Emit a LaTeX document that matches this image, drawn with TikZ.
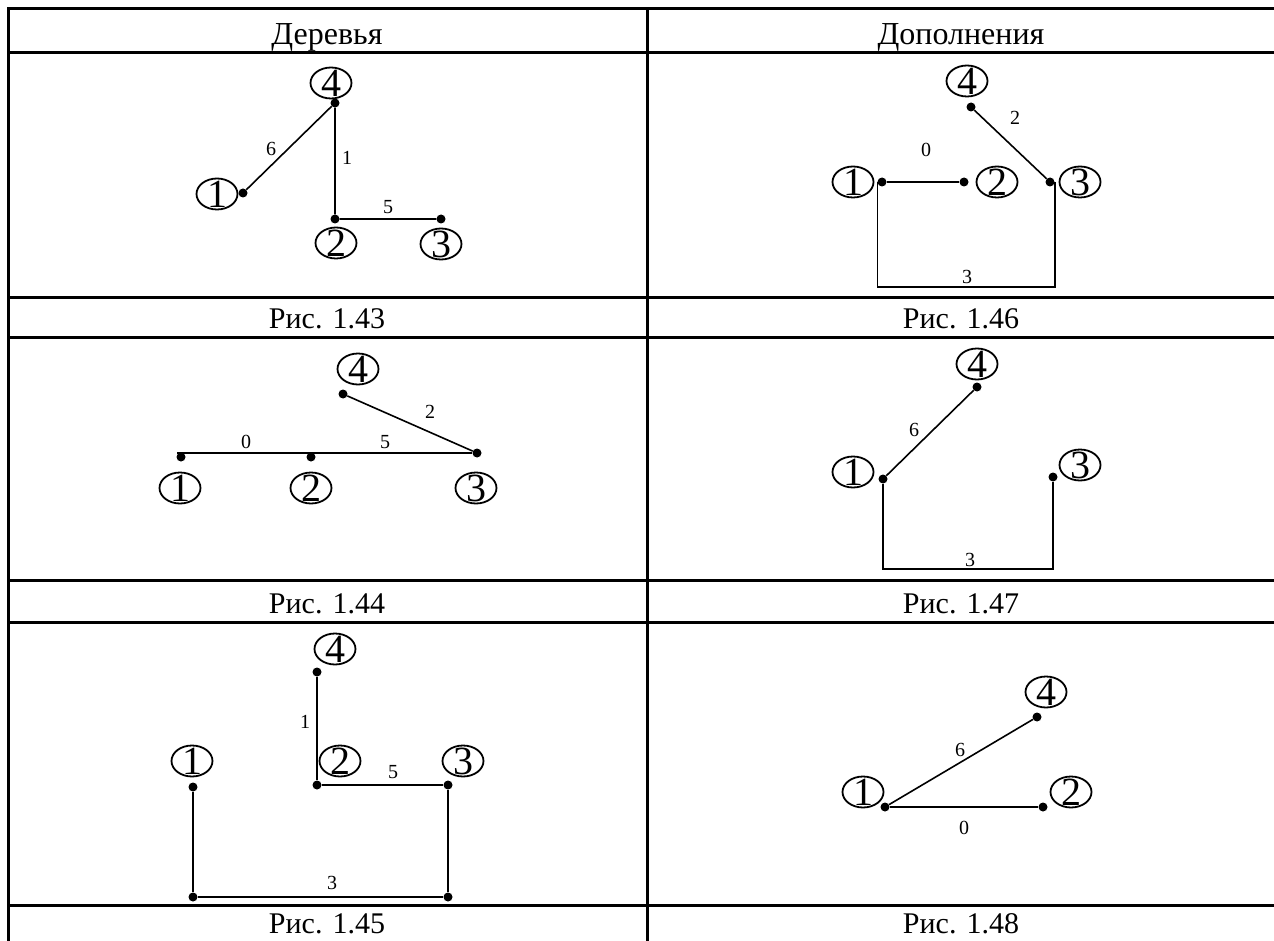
\documentclass[tikz,border=0pt]{standalone}
\usepackage{fontspec}
\setmainfont{Liberation Serif}
\usetikzlibrary{shapes.geometric}
\newcommand{\cifra}[1]{\smash{\makebox[0pt]{\raisebox{-.5\height}{#1}}}}
\begin{document}
\begin{tikzpicture}[x=1pt, y=-1pt,
    setka/.style={line width=3pt},
    rebro/.style={line width=1.6pt},
    tochka/.style={circle, fill, inner sep=0pt, minimum size=9pt},
    vershina/.style={draw, ellipse, line width=1.8pt, inner sep=0pt, minimum width=41pt, minimum height=31pt, font=\fontsize{40}{40}\selectfont},
    ves/.style={inner sep=1pt, font=\fontsize{20}{20}\selectfont},
    podpis/.style={anchor=base, font=\fontsize{30}{30}\selectfont}]
\useasboundingbox (0,0) rectangle (1274,941);
% Таблица
\draw[setka] (8.5,7.5) -- (8.5,941);
\draw[setka] (647,9) -- (647,941);
\foreach \y in {9,53,298,337,580,622,905}
  \draw[setka] (7,\y) -- (1274,\y);
% Заголовки и подписи
\node[podpis, font=\fontsize{32}{32}\selectfont] (hder) at (327,45) {Деревья};
\node[podpis, font=\fontsize{32}{32}\selectfont] (hdop) at (961,45) {Дополнения};
\node[podpis] (r43) at (327,328) {Рис. 1.43};
\node[podpis] (r46) at (961,328) {Рис. 1.46};
\node[podpis] (r44) at (327,613) {Рис. 1.44};
\node[podpis] (r47) at (961,613) {Рис. 1.47};
\node[podpis] (r45) at (327,933) {Рис. 1.45};
\node[podpis] (r48) at (961,933) {Рис. 1.48};
% Рис. 1.43
\node[tochka] (a1) at (243,193) {};
\node[tochka] (a2) at (335,219) {};
\node[tochka] (a3) at (441,219) {};
\node[tochka] (a4) at (335,103) {};
\node[vershina] (va1) at (217,194) {\cifra{1}};
\node[vershina] (va2) at (336,243) {\cifra{2}};
\node[vershina] (va3) at (441,244) {\cifra{3}};
\node[vershina] (va4) at (331,83) {\cifra{4}};
\draw[rebro] (a1) -- (a4) -- (a2) -- (a3);
\node[ves] (wa6) at (271,149) {6};
\node[ves] (wa1) at (347,158) {1};
\node[ves] (wa5) at (388,207) {5};
% Рис. 1.46
\node[tochka] (b1) at (882,182) {};
\node[tochka] (b2) at (964,182) {};
\node[tochka] (b3) at (1050,182) {};
\node[tochka] (b4) at (971,107) {};
\node[vershina] (vb1) at (853,182) {\cifra{1}};
\node[vershina] (vb2) at (997,182) {\cifra{2}};
\node[vershina] (vb3) at (1080,182) {\cifra{3}};
\node[vershina] (vb4) at (967,81) {\cifra{4}};
\coordinate (nizb) at (967,287);
\draw[rebro] (b4) -- (b3);
\draw[rebro] (b1) -- (b2);
\draw[rebro] (b1.west) |- (nizb) -| (b3.east);
\node[ves] (wb0) at (926,150) {0};
\node[ves] (wb2) at (1015,118) {2};
\node[ves] (wb3) at (967,277) {3};
% Рис. 1.44
\node[tochka] (c1) at (181,457) {};
\node[tochka] (c2) at (311,457) {};
\node[tochka] (c3) at (477,453) {};
\node[tochka] (c4) at (343,394) {};
\node[vershina] (vc1) at (180,488) {\cifra{1}};
\node[vershina] (vc2) at (311,488) {\cifra{2}};
\node[vershina] (vc3) at (476,488) {\cifra{3}};
\node[vershina] (vc4) at (358,369) {\cifra{4}};
\coordinate (levc) at (177,453);
\draw[rebro] (levc) -- (c3);
\draw[rebro] (c4) -- (c3);
\node[ves] (wc0) at (246,442) {0};
\node[ves] (wc5) at (385,442) {5};
\node[ves] (wc2) at (430,412) {2};
% Рис. 1.47
\node[tochka] (d1) at (883,479) {};
\node[tochka] (d3) at (1053,477) {};
\node[tochka] (d4) at (977,387) {};
\node[vershina] (vd1) at (853,472) {\cifra{1}};
\node[vershina] (vd3) at (1080,465) {\cifra{3}};
\node[vershina] (vd4) at (977,364) {\cifra{4}};
\coordinate (nizd) at (967,569);
\draw[rebro] (d1) -- (d4);
\draw[rebro] (d1) |- (nizd) -| (d3);
\node[ves] (wd6) at (914,430) {6};
\node[ves] (wd3) at (970,560) {3};
% Рис. 1.45
\node[tochka] (e1) at (193,787) {};
\node[tochka] (e2) at (317,785) {};
\node[tochka] (e3) at (448,785) {};
\node[tochka] (e4) at (317,672) {};
\node[tochka] (e5) at (193,897) {};
\node[tochka] (e6) at (448,897) {};
\node[vershina] (ve1) at (192,761) {\cifra{1}};
\node[vershina] (ve2) at (340,761) {\cifra{2}};
\node[vershina] (ve3) at (463,761) {\cifra{3}};
\node[vershina] (ve4) at (335,649) {\cifra{4}};
\draw[rebro] (e4) -- (e2) -- (e3);
\draw[rebro] (e1) -- (e5) -- (e6) -- (e3);
\node[ves] (we1) at (305,722) {1};
\node[ves] (we5) at (393,772) {5};
\node[ves] (we3) at (332,883) {3};
% Рис. 1.48
\node[tochka] (g1) at (885,807) {};
\node[tochka] (g2) at (1043,807) {};
\node[tochka] (g4) at (1037,717) {};
\node[vershina] (vg1) at (863,792) {\cifra{1}};
\node[vershina] (vg2) at (1071,792) {\cifra{2}};
\node[vershina] (vg4) at (1046,692) {\cifra{4}};
\draw[rebro] (g1) -- (g4);
\draw[rebro] (g1) -- (g2);
\node[ves] (wg6) at (960,750) {6};
\node[ves] (wg0) at (964,828) {0};
\end{tikzpicture}
\end{document}
